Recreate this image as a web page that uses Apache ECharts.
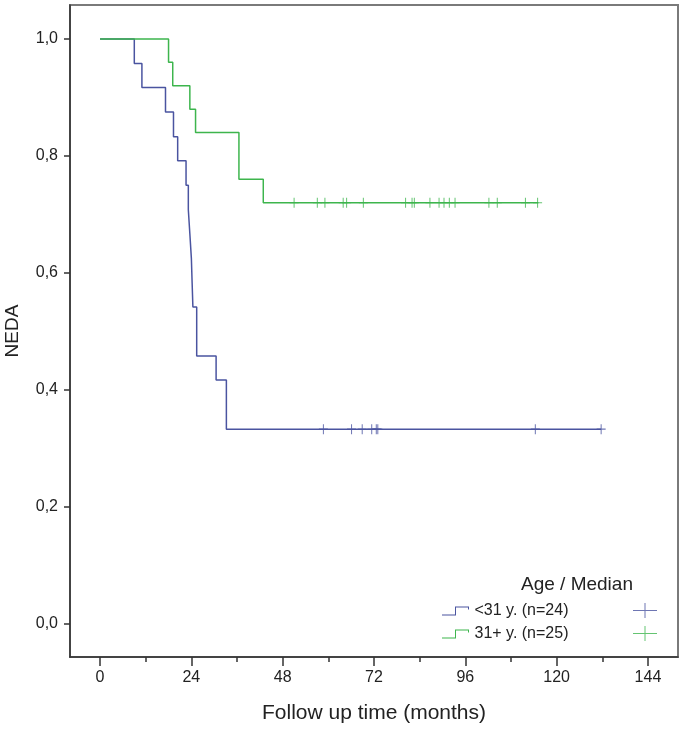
<!DOCTYPE html>
<html lang="en">
<head>
    <meta charset="UTF-8">
    <title>NEDA by age</title>
    <script src="https://cdn.jsdelivr.net/npm/echarts@6/dist/echarts.min.js"></script>
    <style>
        html, body { margin: 0; padding: 0; background: #fff; }
        #chart { width: 685px; height: 729px; }
    </style>
</head>
<body>
<div id="chart"></div>
<script>
    // steps of the Kaplan-Meier curves (months, cumulative NEDA)
    var youngTimes = [0, 9, 11, 17.2, 19.3, 20.4, 22.6, 23.2, 23.6, 24.0, 24.2, 24.4, 25.4, 30.5, 33.2, 131.7];
    var youngSurv = [1, 0.958, 0.917, 0.875, 0.833, 0.792, 0.750, 0.708, 0.667, 0.625, 0.583, 0.542, 0.458, 0.417, 0.333, 0.333];
    var youngCensor = [58.7, 66.1, 68.9, 71.4, 72.6, 73.0, 114.4, 131.7];

    var olderTimes = [0, 18.0, 19.1, 23.6, 25.1, 36.5, 42.9, 115.2];
    var olderSurv = [1, 0.96, 0.92, 0.88, 0.84, 0.76, 0.72, 0.72];
    var olderCensor = [51.0, 57.1, 59.1, 63.9, 64.8, 69.2, 80.3, 82.0, 82.6, 86.7, 89.1, 90.4, 91.8, 93.3, 102.2, 104.4, 111.8, 115.0];

    var xTicks = [0, 24, 48, 72, 96, 120, 144];
    var xMinorTicks = [12, 36, 60, 84, 108, 132];
    var yTicks = [0, 0.2, 0.4, 0.6, 0.8, 1.0];

    var names = ['<31 y. (n=24)', '31+ y. (n=25)'];
    var colors = ['#4a54a0', '#3db54d'];

    var FONT = 'Liberation Sans, Arial, sans-serif';
    var plusMark = 'path://M4,0 H5 V4 H9 V5 H5 V9 H4 V5 H0 V4 H4 Z';
    var plusIcon = 'path://M11.5,0 H12.5 V7 H24 V8 H12.5 V15 H11.5 V8 H0 V7 H11.5 Z';
    var stepIcon = 'path://M0,8 H13 V0 H27 V3 H26 V1 H14 V9 H0 Z';

    function pairs(xs, ys) {
        return xs.map(function (x, i) { return [x, ys[i]]; });
    }
    function censorPts(xs, level) {
        return xs.map(function (x) { return [x, level]; });
    }

    var axisCol = '#333';
    var chart = echarts.init(document.getElementById('chart'));
    chart.setOption({
        animation: false,
        textStyle: { fontFamily: FONT },
        grid: {
            left: 70, right: 7, top: 5, bottom: 72,
            outerBoundsMode: 'none', containLabel: false,
            show: true, borderColor: '#7a7a7a', borderWidth: 2, backgroundColor: '#fff'
        },
        title: {
            text: 'Age / Median',
            left: 521, top: 575, padding: 0,
            textStyle: { fontFamily: FONT, fontSize: 19, fontWeight: 'normal', color: '#222' }
        },
        legend: [{
            data: names.map(function (n) { return { name: n, icon: stepIcon }; }),
            orient: 'vertical',
            left: 442, top: 603, padding: 0,
            itemWidth: 28, itemHeight: 9, itemGap: 7,
            textStyle: { fontFamily: FONT, fontSize: 16, lineHeight: 16, color: '#222' },
            selectedMode: false
        }, {
            data: names.map(function (n) { return { name: n + ' censored', icon: plusIcon }; }),
            orient: 'vertical',
            left: 633, top: 603, padding: 0,
            itemWidth: 24, itemHeight: 15, itemGap: 8,
            formatter: function () { return ''; },
            selectedMode: false
        }],
        xAxis: [{
            type: 'value', min: -7.9, max: 151.9,
            name: 'Follow up time (months)',
            nameLocation: 'middle', nameGap: 46,
            nameTextStyle: { fontFamily: FONT, fontSize: 21, color: '#222' },
            axisLine: { show: true, onZero: false, lineStyle: { color: axisCol, width: 1.5 } },
            axisTick: { show: true, customValues: xTicks, length: 9, lineStyle: { color: axisCol, width: 1.5 } },
            axisLabel: {
                customValues: xTicks, margin: 13, fontSize: 16, color: '#222', fontFamily: FONT
            },
            splitLine: { show: false }
        }, {
            type: 'value', min: -7.9, max: 151.9, position: 'bottom',
            axisLine: { show: false, onZero: false },
            axisTick: { show: true, customValues: xMinorTicks, length: 5, lineStyle: { color: axisCol, width: 1.5 } },
            axisLabel: { show: false },
            splitLine: { show: false }
        }],
        yAxis: {
            type: 'value', min: -0.0564, max: 1.058,
            name: 'NEDA',
            nameLocation: 'middle', nameGap: 48,
            nameTextStyle: { fontFamily: FONT, fontSize: 19, color: '#222' },
            axisLine: { show: true, onZero: false, lineStyle: { color: axisCol, width: 1.5 } },
            axisTick: { show: true, customValues: yTicks, length: 6, lineStyle: { color: axisCol, width: 1.5 } },
            axisLabel: {
                customValues: yTicks, margin: 12, fontSize: 16, color: '#222', fontFamily: FONT,
                formatter: function (v) { return v.toFixed(1).replace('.', ','); }
            },
            splitLine: { show: false }
        },
        series: [{
            name: names[0], type: 'line', step: 'end', showSymbol: false,
            data: pairs(youngTimes, youngSurv),
            lineStyle: { color: colors[0], width: 1.5 }, itemStyle: { color: colors[0] }
        }, {
            name: names[1], type: 'line', step: 'end', showSymbol: false,
            data: pairs(olderTimes, olderSurv),
            lineStyle: { color: colors[1], width: 1.5 }, itemStyle: { color: colors[1] }
        }, {
            name: names[0] + ' censored', type: 'scatter',
            symbol: plusMark, symbolSize: [9, 10],
            data: censorPts(youngCensor, youngSurv[youngSurv.length - 1]),
            itemStyle: { color: colors[0] }
        }, {
            name: names[1] + ' censored', type: 'scatter',
            symbol: plusMark, symbolSize: [9, 10],
            data: censorPts(olderCensor, olderSurv[olderSurv.length - 1]),
            itemStyle: { color: colors[1] }
        }]
    });
</script>
</body>
</html>
